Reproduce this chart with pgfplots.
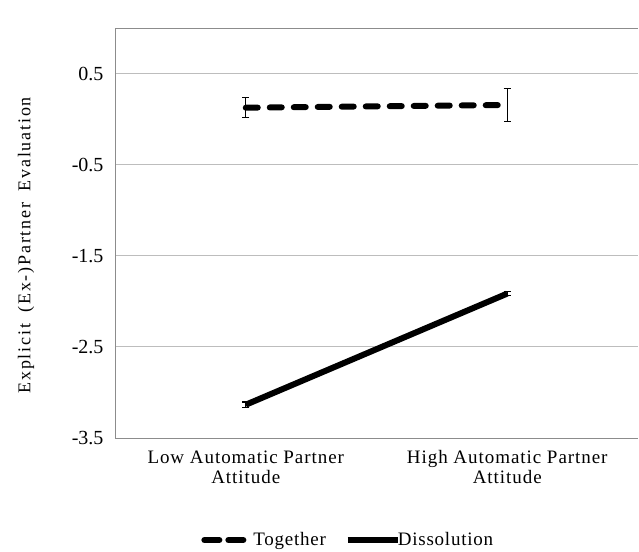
\documentclass[border=0pt]{standalone}
\usepackage{pgfplots}
\pgfplotsset{compat=1.18}
\usepackage{fontspec}
\setmainfont{Liberation Serif}
\newfontfamily\xlabfont[LetterSpace=5]{Liberation Serif}
\newfontfamily\ylabfont[LetterSpace=10,WordSpace=1.8]{Liberation Serif}
\newfontfamily\legfont[LetterSpace=4]{Liberation Serif}
\definecolor{gridgray}{HTML}{BDBDBD}
\definecolor{axgray}{HTML}{8C8C8C}
\begin{document}
\begin{tikzpicture}
\begin{axis}[
  scale only axis, width=523pt, height=410pt,
  xmin=-0.5, xmax=1.5, ymin=-3.5, ymax=1.0,
  xtick={0,1}, xticklabels={Low Automatic Partner\\Attitude, High Automatic Partner\\Attitude},
  xticklabel style={align=center, font=\xlabfont\fontsize{19}{20}\selectfont, yshift=-9pt},
  ytick={-3.5,-2.5,-1.5,-0.5,0.5}, extra y ticks={1}, extra y tick labels={},
  extra y tick style={grid=major, major grid style={draw=axgray, line width=0.9pt}, major tick length=0pt},
  yticklabel style={font=\fontsize{20}{22}\selectfont, xshift=-8pt},
  /pgf/number format/assume math mode=true,
  /pgf/number format/fixed, /pgf/number format/precision=1, /pgf/number format/fixed zerofill,
  ymajorgrids, major grid style={draw=gridgray, line width=0.9pt},
  axis x line=bottom, axis y line=left,
  axis line style={draw=axgray, line width=0.9pt, -},
  tick style={draw=none}, major tick length=0pt,
  ylabel={Explicit (Ex-)Partner Evaluation},
  ylabel style={font=\ylabfont\fontsize{18}{20}\selectfont, at={(axis description cs:-0.17,0.47)}, anchor=center},
  legend style={draw=none, at={(0.446,-0.249)}, anchor=center, legend columns=2,
    font=\legfont\fontsize{19}{21}\selectfont, column sep=17pt},
  legend cell align=left,
  clip=false,
]
\addplot[black, line width=6pt, line cap=round, dash pattern=on 12pt off 12pt,
  legend image code/.code={\draw[overlay, black, line width=6pt, line cap=round, dash pattern=on 12pt off 12pt] (6pt,0pt) -- (48pt,0pt); \path (3pt,0pt) -- (30pt,0pt);},
  error bars/.cd, y dir=both, y explicit, error bar style={black, line width=1.1pt, solid, line cap=butt},
  error mark options={rotate=90, mark size=3.6pt, line width=1.1pt}]
  coordinates {(0,0.125) +- (0,0.11) (1,0.155) +- (0,0.18)};
\addlegendentry{Together}
\addplot[black, line width=6pt,
  legend image code/.code={\draw[overlay, black, line width=6pt] (0pt,0pt) -- (50pt,0pt); \path (0pt,0pt) -- (28pt,0pt);},
  error bars/.cd, y dir=both, y explicit, error bar style={black, line width=1.1pt},
  error mark options={rotate=90, mark size=3.6pt, line width=1.1pt}]
  coordinates {(0,-3.135) +- (0,0.03) (1,-1.915) +- (0,0.02)};
\addlegendentry{Dissolution}
\end{axis}
\path ([xshift=-115pt,yshift=-112pt]current axis.south west) rectangle ([xshift=1pt,yshift=28pt]current axis.north east);
\end{tikzpicture}
\end{document}
